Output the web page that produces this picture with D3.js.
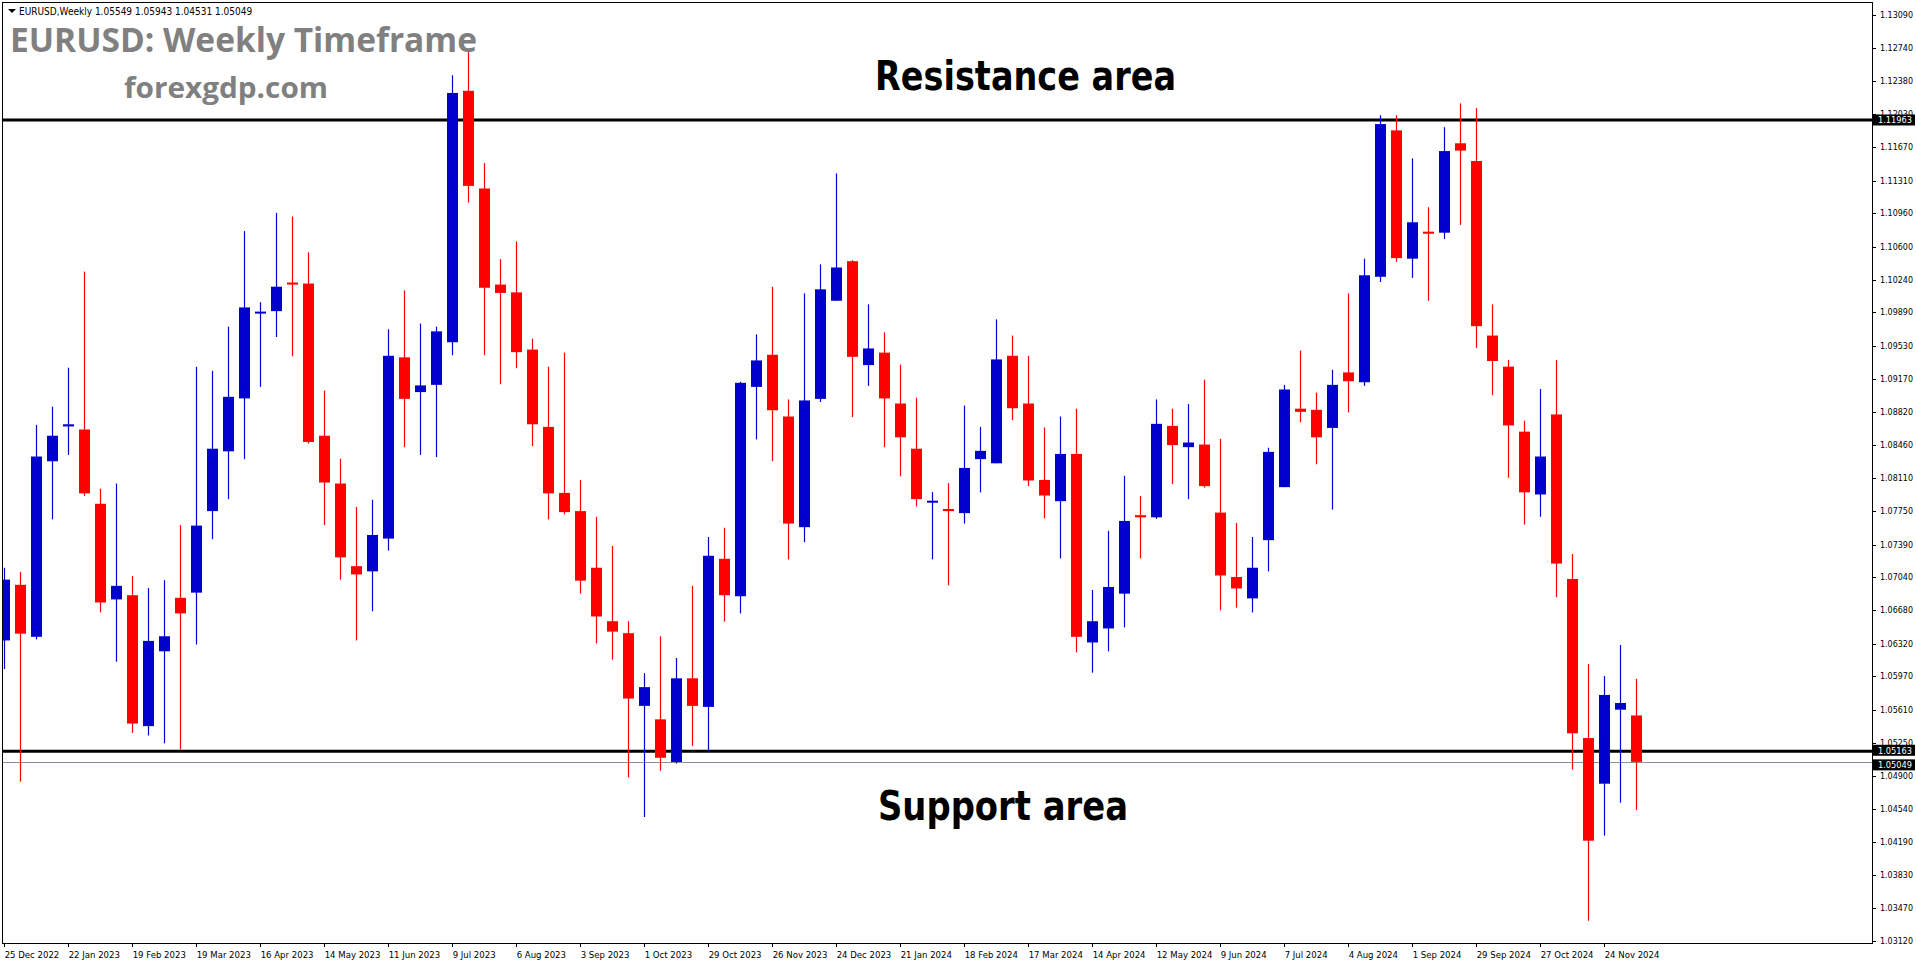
<!DOCTYPE html>
<html>
<head>
<meta charset="utf-8">
<script src="https://cdn.jsdelivr.net/npm/d3@7"></script>
<style>
  body { margin: 0; background: #fff; }
  svg { display: block; }
</style>
</head>
<body>
<svg id="chart" width="1916" height="964"></svg>
<script>
// weekly candles, 25 Dec 2022 .. 8 Dec 2024
const opens = [1.06357,1.06956,1.06396,1.08287,1.08662,1.08629,1.07829,1.06799,1.06844,1.05434,
  1.06240,1.06816,1.06872,1.07750,1.08394,1.08964,1.09882,1.09904,1.10212,1.10201,
  1.08562,1.08047,1.07157,1.07101,1.07454,1.09406,1.09032,1.09110,1.09569,1.12277,
  1.11225,1.10190,1.10106,1.09490,1.08657,1.07946,1.07750,1.07140,1.06564,1.06435,
  1.05652,1.05507,1.05048,1.05949,1.05641,1.07236,1.06833,1.09088,1.09434,1.08769,
  1.07577,1.08959,1.10016,1.10442,1.09323,1.09457,1.08909,1.08422,1.07845,1.07773,
  1.07728,1.08310,1.08265,1.09423,1.08909,1.08086,1.07857,1.08366,1.06335,1.06486,
  1.06861,1.07706,1.07683,1.08668,1.08439,1.08467,1.07734,1.07040,1.06810,1.07437,
  1.08008,1.08853,1.08841,1.08646,1.09244,1.09138,1.10274,1.11851,1.10469,1.10760,
  1.10749,1.11712,1.11521,1.09641,1.09306,1.08606,1.07929,1.08791,1.07019,1.05306,
  1.04814,1.05611,1.05549]
const highs = [1.07140,1.07096,1.08679,1.08875,1.09295,1.10330,1.07991,1.08047,1.07051,1.06922,
  1.07006,1.07599,1.09306,1.09261,1.09737,1.10766,1.10000,1.10962,1.10923,1.10537,
  1.09048,1.08315,1.07795,1.07873,1.09709,1.10128,1.09770,1.09737,1.12445,1.12707,
  1.11499,1.10464,1.10654,1.09608,1.09306,1.09457,1.08086,1.07689,1.07375,1.06564,
  1.06005,1.06402,1.06167,1.06945,1.07471,1.07571,1.09143,1.09653,1.10167,1.08953,
  1.10095,1.10408,1.11387,1.10453,1.09977,1.09675,1.09328,1.08970,1.07957,1.08052,
  1.08886,1.08657,1.09815,1.09641,1.09423,1.08651,1.08769,1.08853,1.06900,1.07538,
  1.08131,1.07913,1.08953,1.08853,1.08903,1.09166,1.08528,1.07622,1.07471,1.08433,
  1.09110,1.09479,1.09026,1.09272,1.10095,1.10469,1.12014,1.12014,1.11549,1.11023,
  1.11885,1.12142,1.12092,1.09977,1.09378,1.08724,1.09065,1.09378,1.07288,1.06103,
  1.05974,1.06308,1.05943]
const lows = [1.06049,1.04835,1.06368,1.07661,1.08355,1.07913,1.06659,1.06128,1.05361,1.05333,
  1.05249,1.05182,1.06312,1.07448,1.07879,1.08310,1.09088,1.09625,1.09418,1.08478,
  1.07599,1.07012,1.06357,1.06671,1.07325,1.08439,1.08355,1.08332,1.09429,1.11074,
  1.09429,1.09116,1.09289,1.08450,1.07661,1.07717,1.06861,1.06324,1.06150,1.04880,
  1.04455,1.04953,1.05031,1.05221,1.05165,1.06559,1.06648,1.08522,1.08287,1.07230,
  1.07415,1.08925,1.10016,1.08763,1.09099,1.08439,1.08125,1.07801,1.07230,1.06950,
  1.07616,1.07952,1.08265,1.08729,1.08019,1.07672,1.07241,1.06228,1.06010,1.06240,
  1.06497,1.07241,1.07666,1.08041,1.07879,1.08002,1.06682,1.06710,1.06659,1.07101,
  1.08008,1.08707,1.08254,1.07767,1.08813,1.09099,1.10218,1.10436,1.10262,1.10016,
  1.10682,1.10833,1.09507,1.08998,1.08108,1.07605,1.07689,1.06822,1.04965,1.03339,
  1.04254,1.04610,1.04531]
const closes = [1.07012,1.06430,1.08338,1.08562,1.08685,1.07941,1.06766,1.06945,1.05462,1.06352,
  1.06402,1.06648,1.07594,1.08422,1.08981,1.09944,1.09899,1.10167,1.10190,1.08495,
  1.08058,1.07252,1.07068,1.07493,1.09423,1.08959,1.09104,1.09686,1.12254,1.11253,
  1.10156,1.10100,1.09462,1.08685,1.07941,1.07739,1.07001,1.06615,1.06452,1.05731,
  1.05854,1.05093,1.05949,1.05652,1.07269,1.06844,1.09132,1.09373,1.08836,1.07616,
  1.08942,1.10139,1.10374,1.09412,1.09502,1.08964,1.08545,1.07879,1.07862,1.07750,
  1.08215,1.08399,1.09384,1.08858,1.08080,1.07918,1.08366,1.06396,1.06564,1.06933,
  1.07644,1.07683,1.08690,1.08461,1.08489,1.08019,1.07057,1.06917,1.07140,1.08388,
  1.09060,1.08819,1.08545,1.09110,1.09149,1.10290,1.11919,1.10475,1.10861,1.10738,
  1.11628,1.11633,1.09742,1.09367,1.08673,1.07952,1.08338,1.07185,1.05357,1.04200,
  1.05770,1.05683,1.05049]

const priceTicks = [1.13090,1.12740,1.12380,1.12030,1.11670,1.11310,1.10960,1.10600,1.10240,1.09890,
  1.09530,1.09170,1.08820,1.08460,1.08110,1.07750,1.07390,1.07040,1.06680,1.06320,
  1.05970,1.05610,1.05250,1.04900,1.04540,1.04190,1.03830,1.03470,1.03120]
const dateLabels = ['25 Dec 2022','22 Jan 2023','19 Feb 2023','19 Mar 2023','16 Apr 2023','14 May 2023',
  '11 Jun 2023','9 Jul 2023','6 Aug 2023','3 Sep 2023','1 Oct 2023','29 Oct 2023','26 Nov 2023',
  '24 Dec 2023','21 Jan 2024','18 Feb 2024','17 Mar 2024','14 Apr 2024','12 May 2024','9 Jun 2024',
  '7 Jul 2024','4 Aug 2024','1 Sep 2024','29 Sep 2024','27 Oct 2024','24 Nov 2024']
const resistance = 1.11963
const support = 1.05163
const lastClose = 1.05049

const candles = opens.map((o, i) => ({ i, o, h: highs[i], l: lows[i], c: closes[i] }))

const L = 2, T = 2, R = 1872, B = 943
const svg = d3.select('#chart')
const x = d3.scaleLinear().domain([0, 102]).range([3.7, 1635.7])
const y = d3.scaleLinear().domain([1.03098, 1.13223]).range([B, T + 1])
const bull = '#0000cc', bear = '#ff0000'
const axisFont = 'DejaVu Sans Condensed, DejaVu Sans, sans-serif'

svg.append('rect').attr('x', L + 0.5).attr('y', T + 0.5)
  .attr('width', R - L).attr('height', B - T)
  .attr('fill', '#fff').attr('stroke', '#000')

const plot = svg.append('g').attr('clip-path', 'url(#clip)')
svg.append('clipPath').attr('id', 'clip').append('rect')
  .attr('x', L + 1).attr('y', T + 1).attr('width', R - L - 1).attr('height', B - T - 1)

// support / resistance
plot.selectAll('line.level').data([resistance, support]).join('line')
  .attr('class', 'level')
  .attr('x1', L).attr('x2', R).attr('y1', d => y(d)).attr('y2', d => y(d))
  .attr('stroke', '#000').attr('stroke-width', 3)
plot.append('line')
  .attr('x1', L).attr('x2', R).attr('y1', Math.round(y(lastClose)) + 0.5).attr('y2', Math.round(y(lastClose)) + 0.5)
  .attr('stroke', '#8a8f99').attr('stroke-width', 1)

const g = plot.selectAll('g.candle').data(candles).join('g').attr('class', 'candle')
g.append('line')
  .attr('x1', d => Math.round(x(d.i)) + 0.5).attr('x2', d => Math.round(x(d.i)) + 0.5)
  .attr('y1', d => y(d.h)).attr('y2', d => y(d.l))
  .attr('stroke', d => d.c >= d.o ? bull : bear).attr('stroke-width', 1.2)
g.append('rect')
  .attr('x', d => Math.round(x(d.i)) - 5)
  .attr('width', 11)
  .attr('y', d => y(Math.max(d.o, d.c)))
  .attr('height', d => Math.max(2, Math.abs(y(d.o) - y(d.c))))
  .attr('fill', d => d.c >= d.o ? bull : bear)

// price axis
const ax = svg.append('g').attr('font-family', axisFont).attr('font-size', 9)
ax.selectAll('line.pt').data(priceTicks).join('line')
  .attr('x1', R).attr('x2', R + 4).attr('y1', d => Math.round(y(d)) + 0.5).attr('y2', d => Math.round(y(d)) + 0.5)
  .attr('stroke', '#000')
ax.selectAll('text.pt').data(priceTicks).join('text')
  .attr('x', R + 8).attr('y', d => y(d) + 3).text(d => d.toFixed(5)).attr('fill', '#000')
  .attr('textLength', 33).attr('lengthAdjust', 'spacingAndGlyphs')

const tags = [resistance, support, lastClose]
const tagY = [y(resistance), y(support) - 1, y(lastClose) + 3]
tags.forEach((v, k) => {
  ax.append('rect').attr('x', R + 1).attr('y', tagY[k] - 5.5).attr('width', 42).attr('height', 11).attr('fill', '#000')
  ax.append('text').attr('x', R + 6).attr('y', tagY[k] + 3.5).attr('fill', '#fff').text(v.toFixed(5))
    .attr('textLength', 34).attr('lengthAdjust', 'spacingAndGlyphs')
})

// date axis
const dates = dateLabels.map((t, k) => ({ t, i: k * 4 }))
ax.selectAll('line.dt').data(dates).join('line')
  .attr('x1', d => Math.round(x(d.i)) + 0.5).attr('x2', d => Math.round(x(d.i)) + 0.5)
  .attr('y1', B).attr('y2', B + 4).attr('stroke', '#000')
ax.selectAll('text.dt').data(dates).join('text')
  .attr('x', d => x(d.i) + 1).attr('y', B + 15).attr('font-size', 9.5).text(d => d.t)

// titles
svg.append('path').attr('d', 'M8,9 L16,9 L12,13 Z').attr('fill', '#000')
svg.append('text').attr('x', 19).attr('y', 15).attr('font-family', axisFont)
  .attr('font-size', 10).text('EURUSD,Weekly  1.05549 1.05943 1.04531 1.05049')
svg.append('text').attr('x', 10).attr('y', 52).attr('font-family', 'Open Sans, sans-serif')
  .attr('font-weight', 'bold').attr('font-size', 34).attr('fill', '#808080')
  .attr('textLength', 467).attr('lengthAdjust', 'spacingAndGlyphs').text('EURUSD: Weekly Timeframe')
svg.append('text').attr('x', 124).attr('y', 98).attr('font-family', 'Open Sans, sans-serif')
  .attr('font-weight', 'bold').attr('font-size', 29).attr('fill', '#808080')
  .attr('textLength', 204).attr('lengthAdjust', 'spacingAndGlyphs').text('forexgdp.com')
svg.append('text').attr('x', 875).attr('y', 90).attr('font-family', 'DejaVu Sans, sans-serif')
  .attr('font-weight', 'bold').attr('font-size', 40).attr('fill', '#000')
  .attr('textLength', 301).attr('lengthAdjust', 'spacingAndGlyphs').text('Resistance area')
svg.append('text').attr('x', 878).attr('y', 820).attr('font-family', 'DejaVu Sans, sans-serif')
  .attr('font-weight', 'bold').attr('font-size', 40).attr('fill', '#000')
  .attr('textLength', 250).attr('lengthAdjust', 'spacingAndGlyphs').text('Support area')
</script>
</body>
</html>
